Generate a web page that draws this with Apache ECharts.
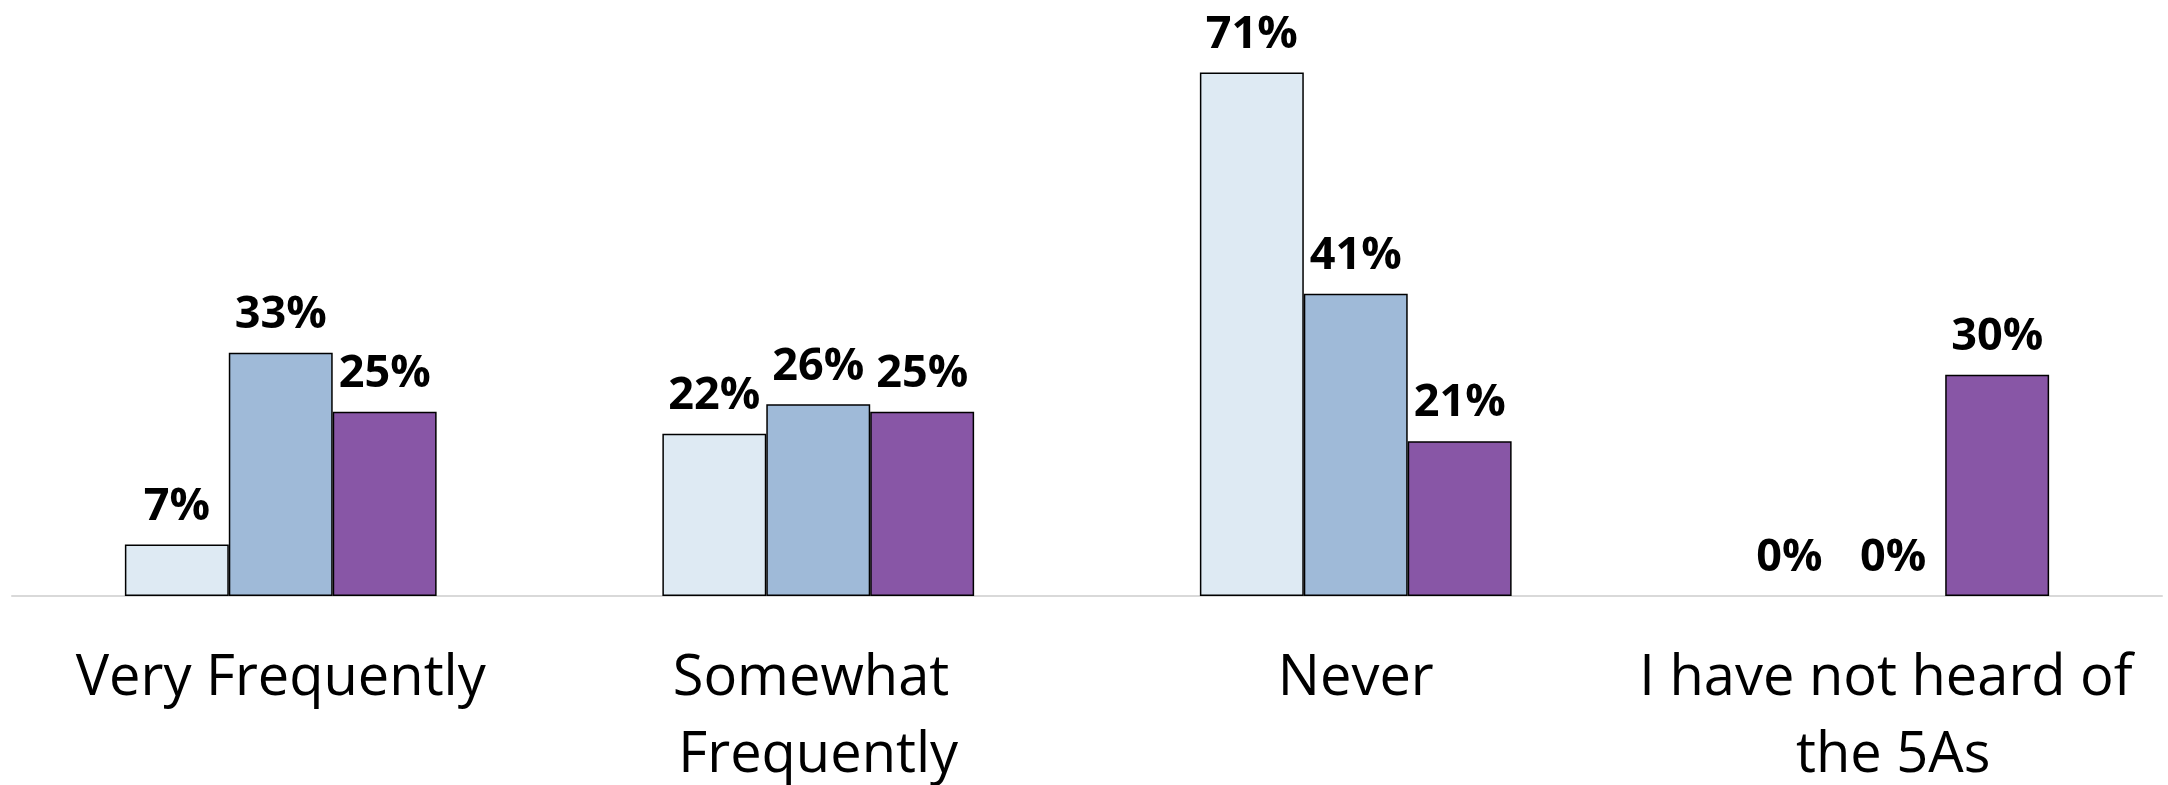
<!DOCTYPE html>
<html>
<head>
<meta charset="utf-8">
<style>
  html, body { margin: 0; padding: 0; background: #ffffff; }
  #chart { width: 2168px; height: 785px; }
</style>
<script src="https://cdn.jsdelivr.net/npm/echarts@6/dist/echarts.min.js"></script>
</head>
<body>
<div id="chart"></div>
<script>
const categories = ['Very Frequently', 'Somewhat Frequently', 'Never', 'I have not heard of the 5As'];
const seriesA = [7, 22, 71, 0];
const seriesB = [33, 26, 41, 0];
const seriesC = [25, 25, 21, 30];
const seriesNames = ['Group A', 'Group B', 'Group C'];
const seriesColors = ['#DEEAF3', '#9FBAD8', '#8856A6'];

function toData(values) {
  return values.map(function (v) {
    return v === 0 ? { value: v, itemStyle: { borderWidth: 0 } } : v;
  });
}

function makeSeries(name, values, color) {
  return {
    name: name,
    type: 'bar',
    data: toData(values),
    barGap: '0%',
    barCategoryGap: '42%',
    itemStyle: { color: color, borderColor: '#000000', borderWidth: 1.5 },
    label: {
      show: true,
      position: 'top',
      distance: 15,
      formatter: function (p) { return p.value + '%'; },
      fontFamily: 'Open Sans',
      fontWeight: 'bold',
      fontSize: 45,
      lineHeight: 45,
      color: '#000000'
    }
  };
}

const chart = echarts.init(document.getElementById('chart'), null, { renderer: 'canvas' });
chart.setOption({
  animation: false,
  backgroundColor: '#ffffff',
  grid: { left: 12, right: 6, top: 6, bottom: 189, containLabel: false, outerBoundsMode: 'none' },
  xAxis: {
    type: 'category',
    data: categories,
    axisLine: { show: true, lineStyle: { color: '#D9D9D9', width: 2 } },
    axisTick: { show: false },
    axisLabel: {
      interval: 0,
      margin: 45,
      fontFamily: 'Open Sans',
      fontSize: 56,
      lineHeight: 77,
      color: '#000000',
      width: 520,
      overflow: 'break'
    }
  },
  yAxis: {
    type: 'value',
    min: 0,
    max: 80,
    show: false,
    splitLine: { show: false }
  },
  series: [
    makeSeries(seriesNames[0], seriesA, seriesColors[0]),
    makeSeries(seriesNames[1], seriesB, seriesColors[1]),
    makeSeries(seriesNames[2], seriesC, seriesColors[2])
  ]
});
</script>
</body>
</html>
